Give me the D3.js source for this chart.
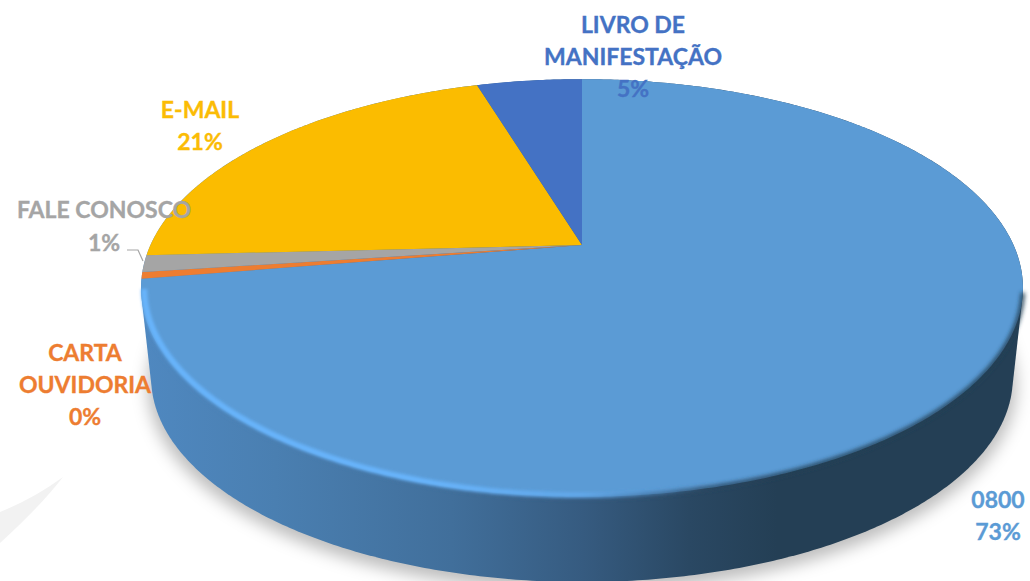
<!DOCTYPE html>
<html>
<head>
<meta charset="utf-8">
<script src="https://cdnjs.cloudflare.com/ajax/libs/d3/7.8.5/d3.min.js"></script>
<style>
html, body { margin: 0; padding: 0; background: #fff; overflow: hidden; }
text { font-family: Lato, "Open Sans", sans-serif; font-weight: 700; text-anchor: middle; stroke-width: 0.35; }
</style>
</head>
<body>
<div id="app"></div>
<script>
// data, clockwise from the top of the pie
var categories = ['0800', 'CARTA OUVIDORIA', 'FALE CONOSCO', 'E-MAIL', 'LIVRO DE MANIFESTAÇÃO'];
var shares = [72.4, 0.5, 1.3, 21.1, 4.7];
var percentLabels = ['73%', '0%', '1%', '21%', '5%'];
var colors = ['#5b9bd5', '#ed7d31', '#a5a5a5', '#fbbc00', '#4472c4'];
var labelColors = ['#5b9bd5', '#ed7d31', '#a5a5a5', '#fbbc05', '#4472c4'];

var width = 1030, height = 581;

// pie tilted in perspective: unit circle -> screen
var cx = 582, cy = 245, radiusX = 431.5, radiusY = 200, persp = 0.2058;
function project(angle, scale, dy) {
	var u = Math.sin(angle), v = -Math.cos(angle), w = 1 - persp * v;
	return [cx + scale * radiusX * u / w, cy + dy + scale * radiusY * v / w];
}
function rim(a0, a1, scale, dy) {
	var n = Math.max(2, Math.ceil((a1 - a0) / 0.01));
	return d3.range(n + 1).map(function(i) { return project(a0 + (a1 - a0) * i / n, scale, dy); });
}

var svg = d3.select("#app").append("svg")
	.attr("width", width)
	.attr("height", height)
	.style("display", "block");

var defs = svg.append("defs");
function blur(id, dev) {
	defs.append("filter").attr("id", id)
		.attr("filterUnits", "userSpaceOnUse")
		.attr("x", -50).attr("y", -50).attr("width", width + 100).attr("height", height + 100)
		.append("feGaussianBlur").attr("stdDeviation", dev);
}
blur("shadowBlur", 8);
blur("rimBlur", 1.6);
blur("edgeBlur", 2);

var sideGrad = defs.append("linearGradient").attr("id", "sideGrad")
	.attr("gradientUnits", "userSpaceOnUse")
	.attr("x1", 143).attr("x2", 1024).attr("y1", 0).attr("y2", 0);
[[0, '#4f88c0'], [0.15, '#4a7fb1'], [0.35, '#416f9b'], [0.5, '#365b80'], [0.62, '#2a4863'], [0.72, '#243f55'], [1, '#243f55']]
	.forEach(function(s) { sideGrad.append("stop").attr("offset", s[0]).attr("stop-color", s[1]); });

var rimGrad = defs.append("linearGradient").attr("id", "rimGrad")
	.attr("gradientUnits", "userSpaceOnUse")
	.attr("x1", 143).attr("x2", 1024).attr("y1", 0).attr("y2", 0);
[[0, 1], [0.32, 1], [0.5, 0.75], [0.64, 0]]
	.forEach(function(s) { rimGrad.append("stop").attr("offset", s[0]).attr("stop-color", '#68b4fb').attr("stop-opacity", s[1]); });

// faint swoosh of the slide background
svg.append("path")
	.attr("d", "M0,512 C25,502 45,490 63,477 C45,500 25,520 0,543 Z")
	.attr("fill", "#f2f2f2");

var line = d3.line();
var full = Math.PI * 2;
var sidePts = d3.polygonHull(rim(0, full, 1, 0).concat(rim(0, full, 0.977, 91)));

// shadow falls from the bottom rim only
svg.append("path")
	.attr("d", line(rim(0, full, 0.985, 91)) + "Z")
	.attr("transform", "translate(0,7)")
	.attr("fill", "#000")
	.attr("fill-opacity", 0.26)
	.attr("filter", "url(#shadowBlur)");
svg.append("path")
	.attr("d", line(sidePts) + "Z")
	.attr("fill", "url(#sideGrad)");

// top face
var pie = d3.pie().sort(null).value(function(d) { return d; });
var arcs = pie(shares);
svg.selectAll("path.slice")
	.data(arcs)
	.join("path")
	.attr("class", "slice")
	.attr("d", function(d) { return line([[cx, cy]].concat(rim(d.startAngle, d.endAngle, 1, 0))) + "Z"; })
	.attr("fill", function(d, i) { return colors[i]; });

// soft edge and bevel along the big slice only
svg.append("path")
	.attr("d", line(rim(1.8, arcs[0].endAngle - 0.3, 1, 0)))
	.attr("fill", "none")
	.attr("stroke", "url(#sideGrad)")
	.attr("stroke-width", 4)
	.attr("filter", "url(#edgeBlur)");
svg.append("path")
	.attr("d", line(rim(2.2, arcs[0].endAngle - 0.05, 0.993, 0)))
	.attr("fill", "none")
	.attr("stroke", "url(#rimGrad)")
	.attr("stroke-width", 6)
	.attr("filter", "url(#rimBlur)");

// leader for fale conosco
svg.append("path")
	.attr("d", "M127,250 H138 L143,261")
	.attr("fill", "none")
	.attr("stroke", "#a5a5a5")
	.attr("stroke-width", 1.2);

// labels
var fontSize = 23;
var labelLines = [
	[categories[0], percentLabels[0]],
	['CARTA', 'OUVIDORIA', percentLabels[1]],
	[categories[2]],
	[categories[3], percentLabels[3]],
	['LIVRO DE', 'MANIFESTAÇÃO', percentLabels[4]]
];
var labelX = [998, 85, 104, 200, 633];
var labelY = [508, 361, 218, 118, 33];
var lineGap = 32;

labelLines.forEach(function(lines, i) {
	svg.append("text")
		.attr("fill", labelColors[i])
		.attr("stroke", labelColors[i])
		.attr("font-size", fontSize)
		.selectAll("tspan")
		.data(lines)
		.join("tspan")
		.attr("x", labelX[i])
		.attr("y", function(d, j) { return labelY[i] + j * lineGap; })
		.text(function(d) { return d; });
});
svg.append("text")
	.attr("fill", labelColors[2])
	.attr("stroke", labelColors[2])
	.attr("font-size", fontSize)
	.attr("x", 104)
	.attr("y", 251)
	.text(percentLabels[2]);
</script>
</body>
</html>
